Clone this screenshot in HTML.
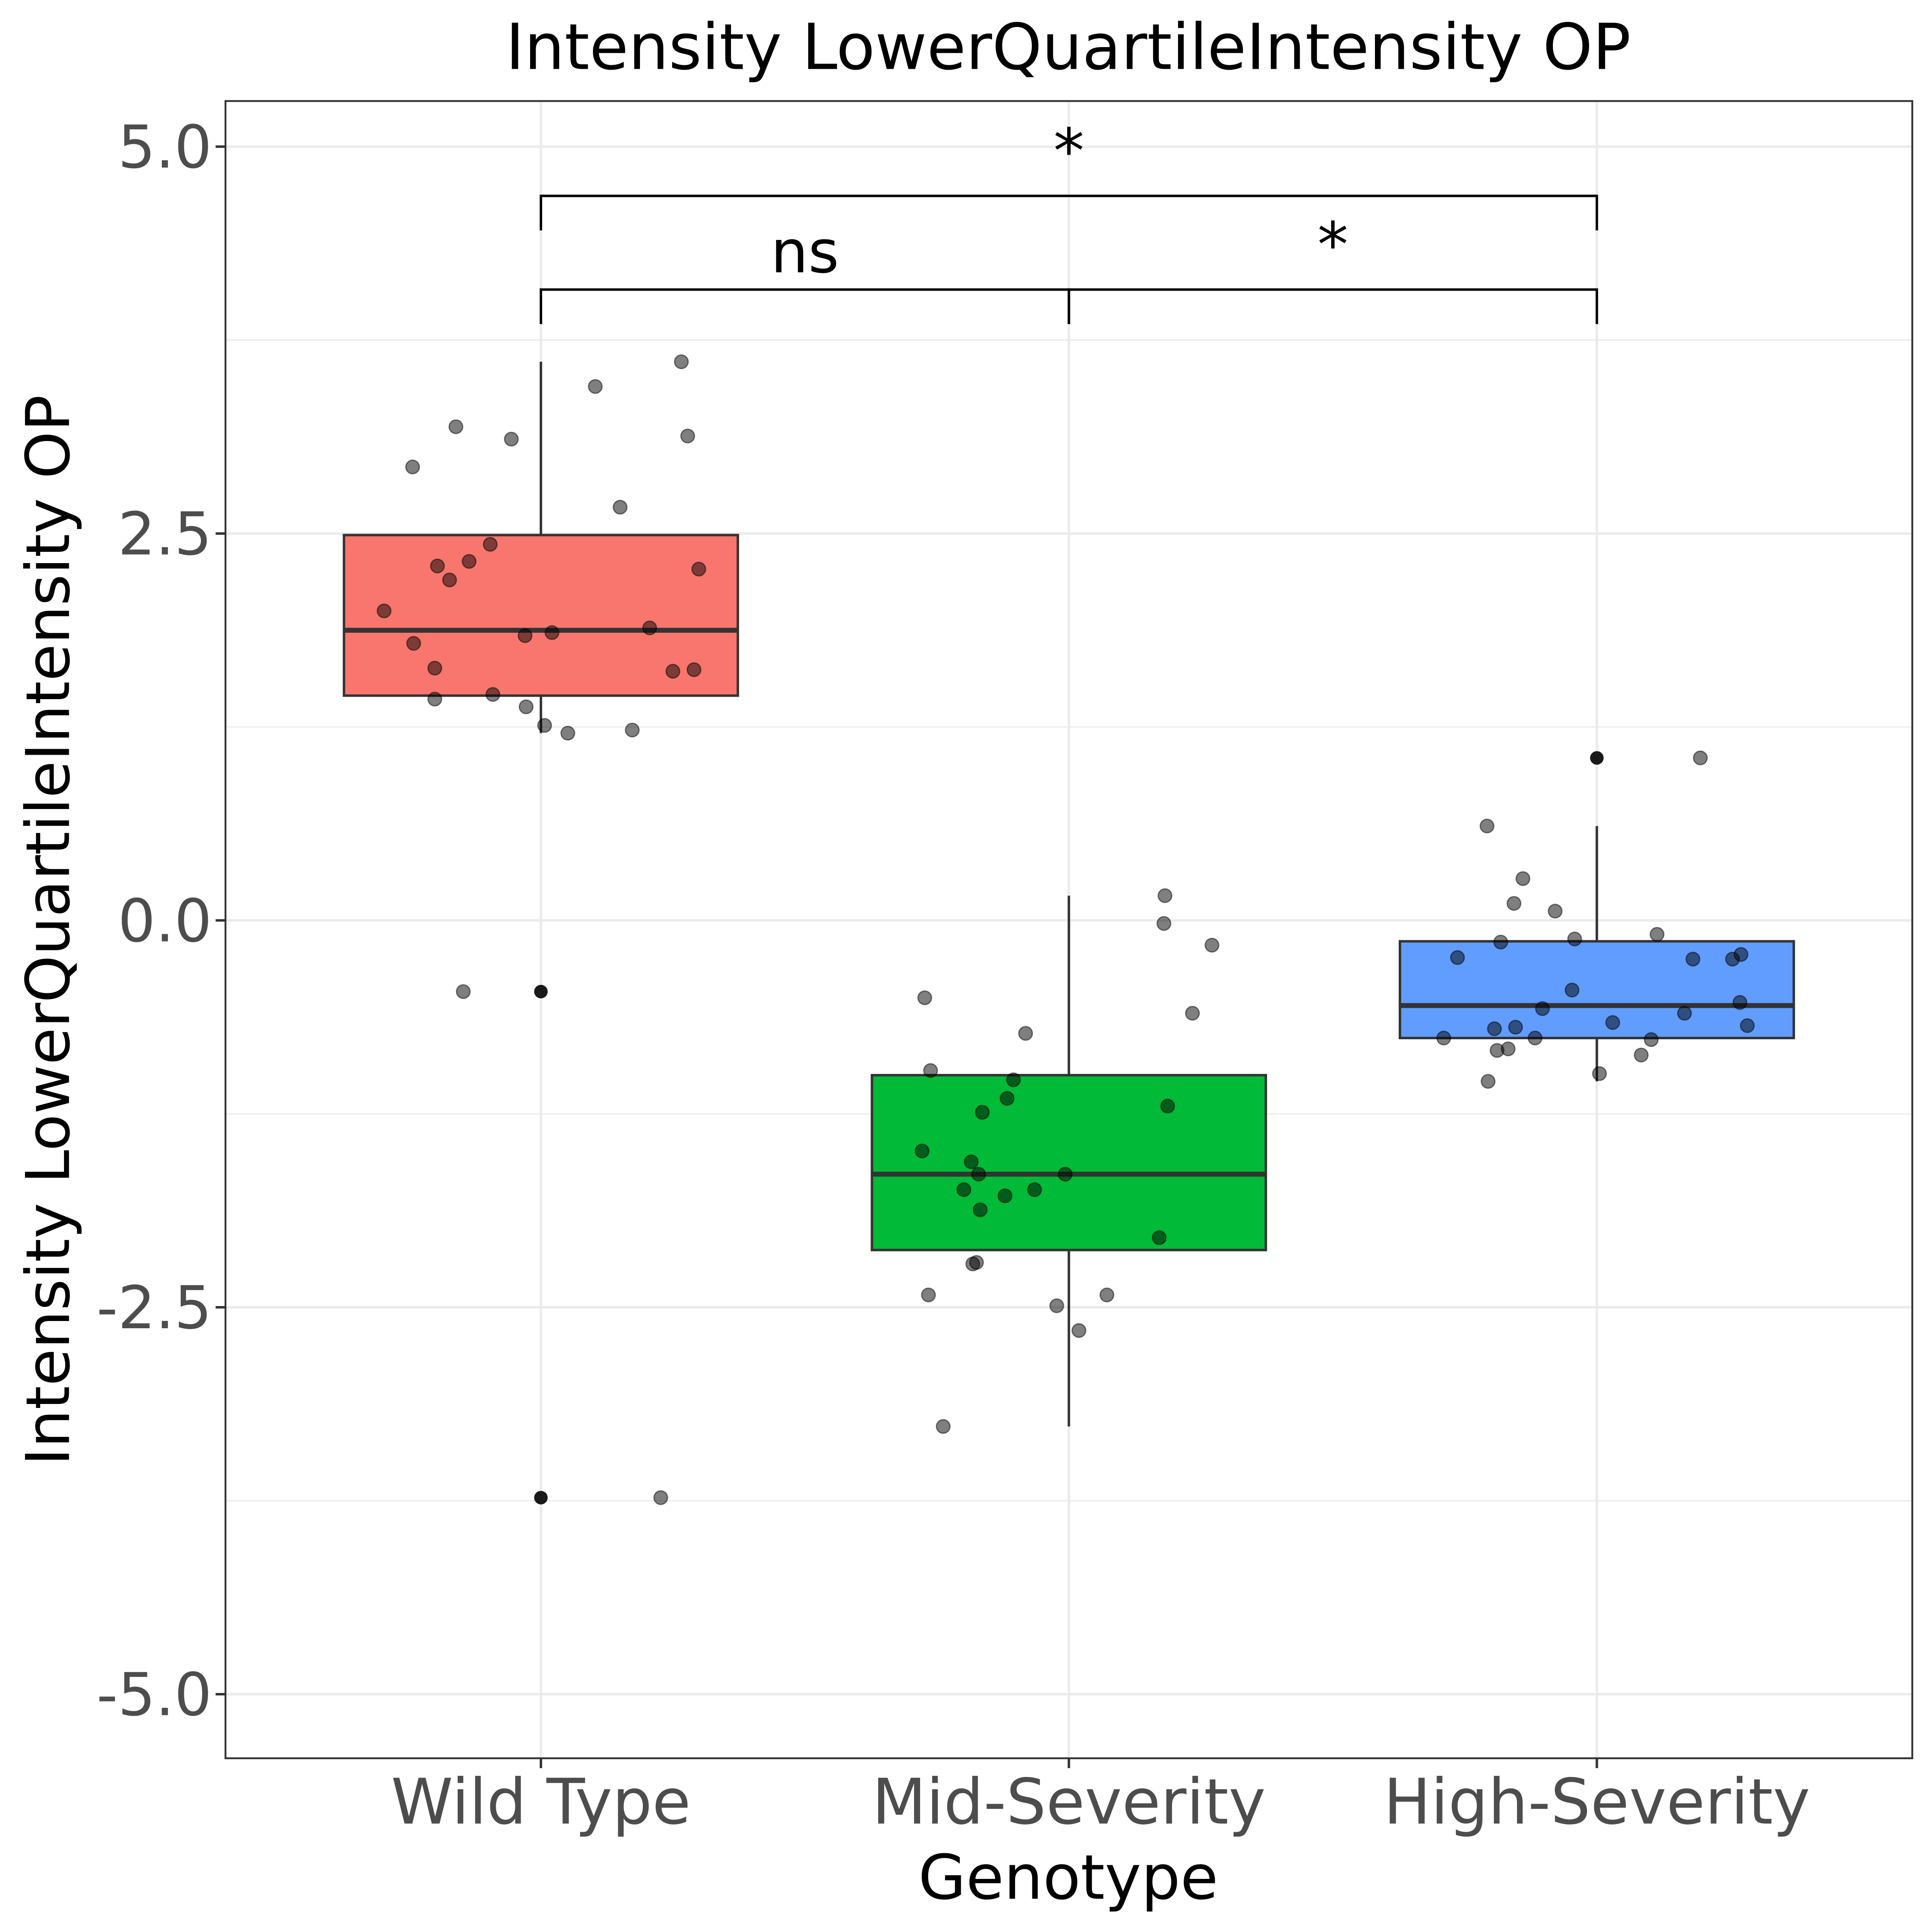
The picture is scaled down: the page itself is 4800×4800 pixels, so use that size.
<!DOCTYPE html>
<html><head><meta charset="utf-8"><style>html,body{margin:0;padding:0;background:#fff}svg{display:block}</style></head>
<body>
<svg id="chart" width="4800" height="4800" viewBox="0 0 1568 1568" xmlns="http://www.w3.org/2000/svg" font-family="'DejaVu Sans','Liberation Sans',sans-serif"></svg>
<script>
const categories = ["Wild Type", "Mid-Severity", "High-Severity"];
const colors = ["#F8766D", "#00BA38", "#619CFF"];
const yTicks = [5.0, 2.5, 0.0, -2.5, -5.0];
const yTickLabels = ["5.0", "2.5", "0.0", "-2.5", "-5.0"];
const wtValues = [2.00,2.93,1.79,1.63,1.43,2.29,2.20,3.19,-0.46,2.32,2.43,1.46,3.11,1.84,1.38,1.26,1.86,1.21,3.45,2.67,1.23,1.89,-3.73,1.61,3.61,3.13,1.62,2.27];
const wtJitter = [-0.297,-0.243,-0.241,-0.201,-0.201,-0.196,-0.173,-0.161,-0.147,-0.136,-0.096,-0.091,-0.056,-0.030,-0.028,0.007,0.021,0.051,0.103,0.150,0.173,0.206,0.227,0.250,0.266,0.278,0.290,0.299];
const midValues = [-1.49,-0.50,-2.42,-0.97,-3.27,-1.74,-1.56,-2.22,-2.21,-1.64,-1.87,-1.24,-1.78,-1.15,-1.03,-0.73,-1.74,-2.49,-1.64,-2.65,-2.42,-2.05,-0.02,0.16,-1.20,-0.60,-0.16];
const midJitter = [-0.278,-0.273,-0.266,-0.262,-0.238,-0.199,-0.185,-0.182,-0.175,-0.171,-0.168,-0.164,-0.121,-0.117,-0.105,-0.082,-0.065,-0.023,-0.007,0.019,0.072,0.171,0.180,0.182,0.187,0.234,0.271];
const highValues = [-0.76,-0.24,0.61,-1.04,-0.70,-0.84,-0.14,-0.83,0.11,-0.69,0.27,-0.76,-0.57,0.06,-0.45,-0.12,-0.99,-0.66,-0.87,-0.77,-0.09,-0.60,-0.25,1.05,-0.25,-0.53,-0.22,-0.68];
const highJitter = [-0.290,-0.264,-0.208,-0.206,-0.194,-0.189,-0.182,-0.168,-0.157,-0.154,-0.140,-0.117,-0.103,-0.079,-0.047,-0.042,0.005,0.030,0.084,0.103,0.114,0.166,0.182,0.196,0.257,0.271,0.273,0.285];
const groups = [wtValues, midValues, highValues];
const jitters = [wtJitter, midJitter, highJitter];

const svg = document.getElementById('chart');
const NS = "http://www.w3.org/2000/svg";
const L=183,R=1552,T=82,B=1427;
const yScale = v => 747 - v*125.6;
const xScale = i => 439 + i*428.5;
const STEP = 428.5;
function mk(tag, attrs, parent){const e=document.createElementNS(NS,tag);for(const k in attrs)e.setAttribute(k,attrs[k]);(parent||svg).appendChild(e);return e;}
function quant(s,p){const h=(s.length-1)*p,lo=Math.floor(h),hi=Math.ceil(h);return s[lo]+(s[hi]-s[lo])*(h-lo);}

const grid = mk('g',{});


[3.75,1.25,-1.25,-3.75].forEach(v=>mk('line',{x1:L,x2:R,y1:yScale(v),y2:yScale(v),stroke:'#ebebeb','stroke-width':1},grid));
yTicks.forEach(v=>mk('line',{x1:L,x2:R,y1:yScale(v),y2:yScale(v),stroke:'#ebebeb','stroke-width':2},grid));
categories.forEach((c,i)=>mk('line',{x1:xScale(i),x2:xScale(i),y1:T,y2:B,stroke:'#ebebeb','stroke-width':2},grid));

groups.forEach((vals,i)=>{
  const s=[...vals].sort((a,b)=>a-b);
  const q1=quant(s,0.25),med=quant(s,0.5),q3=quant(s,0.75),iqr=q3-q1;
  const inside=s.filter(v=>v>=q1-1.5*iqr&&v<=q3+1.5*iqr);
  const lo=Math.min(...inside),hi=Math.max(...inside);
  const cx=xScale(i),hw=STEP*0.373;
  const g=mk('g',{});
  
  
  mk('line',{x1:cx,x2:cx,y1:yScale(hi),y2:yScale(q3),stroke:'#333','stroke-width':2},g);
  mk('line',{x1:cx,x2:cx,y1:yScale(q1),y2:yScale(lo),stroke:'#333','stroke-width':2},g);
  mk('rect',{x:cx-hw,y:yScale(q3),width:2*hw,height:yScale(q1)-yScale(q3),fill:colors[i],stroke:'#333','stroke-width':2},g);
  mk('line',{x1:cx-hw,x2:cx+hw,y1:yScale(med),y2:yScale(med),stroke:'#333','stroke-width':4},g);
  s.filter(v=>v<q1-1.5*iqr||v>q3+1.5*iqr).forEach(v=>{
    const o=mk('circle',{cx:cx,cy:yScale(v),r:5.5,fill:'#1a1a1a'},g);
    
    
  });
});
groups.forEach((vals,i)=>{
  vals.forEach((v,j)=>{
    const p=mk('circle',{cx:xScale(i)+jitters[i][j]*STEP,cy:yScale(v),r:5.5,fill:'rgba(0,0,0,0.5)',stroke:'rgba(0,0,0,0.5)','stroke-width':1});
    
    
  });
});
mk('rect',{x:L,y:T,width:R-L,height:B-T,fill:'none',stroke:'#333','stroke-width':1.5});

function bracket(a,b,y,label,name,ly,fs){
  const g=mk('g',{});
  
  
  mk('path',{d:`M${xScale(a)},${y+28}V${y}H${xScale(b)}V${y+28}`,fill:'none',stroke:'#000','stroke-width':2},g);
  const t=mk('text',{x:(xScale(a)+xScale(b))/2,y:ly,'text-anchor':'middle','font-size':fs,fill:'#000'},g);
  t.textContent=label;
}
bracket(0,1,235,'ns','bracket-wt-mid',221,48);
bracket(1,2,235,'*','bracket-mid-high',216,50);
bracket(0,2,159,'*','bracket-wt-high',140,50);

yTicks.forEach((v,k)=>{
  mk('line',{x1:L-8,x2:L,y1:yScale(v),y2:yScale(v),stroke:'#333','stroke-width':2});
  const t=mk('text',{x:L-11,y:yScale(v)+17,'text-anchor':'end','font-size':48,fill:'#4d4d4d'});
  
  
  t.textContent=yTickLabels[k];
});
categories.forEach((c,i)=>{
  mk('line',{x1:xScale(i),x2:xScale(i),y1:B,y2:B+8,stroke:'#333','stroke-width':2});
  const t=mk('text',{x:xScale(i),y:1480,'text-anchor':'middle','font-size':51,fill:'#4d4d4d'});
  
  
  t.textContent=c;
});
let t=mk('text',{x:867,y:1541,'text-anchor':'middle','font-size':50,fill:'#000'});


t.textContent='Genotype';
t=mk('text',{x:0,y:0,'text-anchor':'middle','font-size':49,fill:'#000',transform:'translate(56,755) rotate(-90)'});


t.textContent='Intensity LowerQuartileIntensity OP';
t=mk('text',{x:867,y:56,'text-anchor':'middle','font-size':51.5,fill:'#000'});


t.textContent='Intensity LowerQuartileIntensity OP';
</script>
</body></html>
